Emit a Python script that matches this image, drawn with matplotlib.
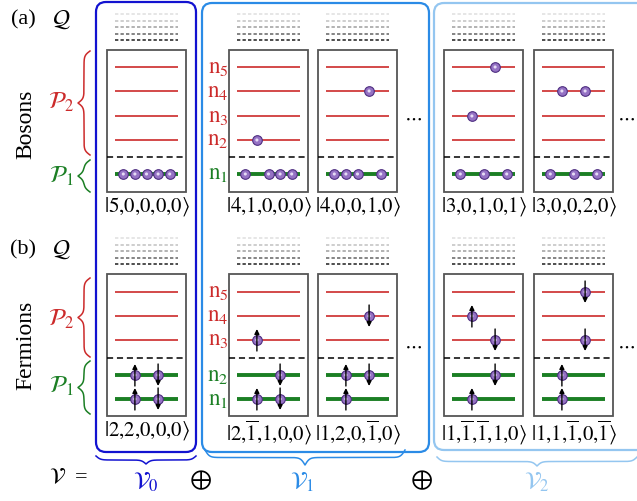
import numpy as np
import matplotlib.pyplot as plt
from matplotlib.patches import FancyBboxPatch, Rectangle

plt.rcParams['font.family'] = 'Liberation Serif'
plt.rcParams['mathtext.fontset'] = 'stix'

# bosons: level (1..5) of each of the five particles, one entry per slot
boson_slots = [
    [1, 1, 1, 1, 1],
    [1, 2, 1, 1, 1],
    [1, 1, 1, 4, 1],
    [1, 3, 1, 5, 1],
    [1, 4, 1, 4, 1],
]
# fermions: occupation per level, 2 = up+down, 1 = up, -1 = down
fermion_occ = [
    [2, 2, 0, 0, 0],
    [2, -1, 1, 0, 0],
    [1, 2, 0, -1, 0],
    [1, -1, -1, 1, 0],
    [1, 1, -1, 0, -1],
]
level_names = ['1', '2', '3', '4', '5']
subspace_names = [r'$\mathcal{V}_0$', r'$\mathcal{V}_1$', r'$\mathcal{V}_2$']

RED = '#cc2a2a'
GREEN = '#1b7f24'
PURPLE = '#9572c4'
BOX_COLORS = ['#1212d0', '#2b8be6', '#94c6f0']

fig = plt.figure(figsize=(6.37, 5.01), dpi=100)
ax = fig.add_axes([0, 0, 1, 1])
ax.set_xlim(0, 637)
ax.set_ylim(501, 0)
ax.axis('off')

panel_left = [107, 229, 318, 444, 534]
PW, PH = 79, 142


def brace(a, b, base, depth, vertical, color, beta=0.45, lw=1.1):
    L = abs(b - a)
    t = np.linspace(0, L / 2, 200)
    half = 1 / (1 + np.exp(-beta * (t - t[0]))) + 1 / (1 + np.exp(-beta * (t - t[-1])))
    d = np.concatenate([half, half[-2::-1]]) - 0.5
    s = a + np.linspace(0, L, d.size)
    if vertical:
        ax.plot(base - depth * d, s, color=color, lw=lw)
    else:
        ax.plot(s, base + depth * d, color=color, lw=lw)


def particle(x, y):
    ax.scatter([x], [y], s=48, c=PURPLE, edgecolors='#4d2d80', linewidths=0.8, zorder=5)
    ax.scatter([x], [y], s=5, c='#e6dcf5', edgecolors='none', zorder=6)


def panel(left, top, levels_y, n_green, label):
    ax.add_patch(Rectangle((left, top), PW, PH, fill=False, ec='#555555', lw=1.3, zorder=2))
    dash_y = levels_y[n_green - 1] - 17
    ax.hlines(dash_y, left, left + PW, colors='k', linestyles=(0, (4, 2.5)), lw=1.1, zorder=3)
    for i, y in enumerate(levels_y):
        if i < n_green:
            ax.hlines(y, left + 8, left + PW - 8, colors=GREEN, lw=2.8, zorder=3)
        else:
            ax.hlines(y, left + 8, left + PW - 8, colors=RED, lw=1.2, zorder=3)
    # Q levels above
    greys = ['#e2e2e2', '#c6c6c6', '#a5a5a5', '#707070', '#303030']
    for k, g in enumerate(greys):
        ax.hlines(top - 36 + k * 6.5, left + 8, left + PW - 8, colors=g,
                  linestyles=(0, (2, 1.3)), lw=1.2)
    ax.text(left + PW / 2, top + PH + 3, label, ha='center', va='top', fontsize=15)


def slot_x(left, slot):
    return left + PW / 2 + (slot - 2) * 11.6


# big rounded boxes
ax.add_patch(FancyBboxPatch((96, 2), 100, 450, boxstyle='round,pad=0,rounding_size=10',
                            fill=False, ec=BOX_COLORS[0], lw=1.6))
ax.add_patch(FancyBboxPatch((202, 3), 227, 449, boxstyle='round,pad=0,rounding_size=10',
                            fill=False, ec=BOX_COLORS[1], lw=1.6))
ax.add_patch(FancyBboxPatch((434, 3), 230, 447, boxstyle='round,pad=0,rounding_size=10',
                            fill=False, ec=BOX_COLORS[2], lw=1.6))

# bosons
b_top = 50
b_levels = [174, 140, 116, 91, 67]
for left, slots in zip(panel_left, boson_slots):
    counts = [slots.count(l + 1) for l in range(5)]
    label = r'$|' + '{,}'.join(str(c) for c in counts) + r'\rangle$'
    panel(left, b_top, b_levels, 1, label)
    for k, lev in enumerate(slots):
        particle(slot_x(left, k), b_levels[lev - 1])

# fermions
f_top = 274
f_levels = [399, 375, 340, 316, 292]
for left, occ in zip(panel_left, fermion_occ):
    parts = []
    for o in occ:
        parts.append(r'\overline{1}' if o == -1 else str(o))
    label = r'$|' + '{,}'.join(parts) + r'\rangle$'
    panel(left, f_top, f_levels, 2, label)
    for lev, o in enumerate(occ):
        y = f_levels[lev]
        spins = {2: [1, -1], 1: [1], -1: [-1], 0: []}[o]
        for sp in spins:
            x = slot_x(left, 1 if sp == 1 else 3)
            particle(x, y)
            ax.annotate('', xy=(x, y - 11 * sp), xytext=(x, y + 11 * sp),
                        arrowprops=dict(arrowstyle='-|>', lw=1.0, color='k',
                                        mutation_scale=7, shrinkA=0, shrinkB=0),
                        zorder=7)

# level names in the second column
for i, name in enumerate(level_names):
    col = GREEN if i == 0 else RED
    ax.text(218, b_levels[i], r'$\mathrm{n}_{%s}$' % name, color=col, ha='center',
            va='center', fontsize=16.5)
    col = GREEN if i < 2 else RED
    ax.text(218, f_levels[i], r'$\mathrm{n}_{%s}$' % name, color=col, ha='center',
            va='center', fontsize=16.5)

# dots
for x in [413, 626]:
    ax.text(x, 118, r'$\cdots$', ha='center', va='center', fontsize=14)
    ax.text(x, 346, r'$\cdots$', ha='center', va='center', fontsize=14)

# left labels
ax.text(23, 20, '(a)', ha='center', va='center', fontsize=16)
ax.text(61, 20, r'$\mathcal{Q}$', ha='center', va='center', fontsize=17)
ax.text(23, 250, '(b)', ha='center', va='center', fontsize=16)
ax.text(61, 250, r'$\mathcal{Q}$', ha='center', va='center', fontsize=17)
ax.text(26, 124, 'Bosons', rotation=90, ha='center', va='center', fontsize=17)
ax.text(26, 345, 'Fermions', rotation=90, ha='center', va='center', fontsize=17)

ax.text(61, 102, r'$\mathcal{P}_2$', color=RED, ha='center', va='center', fontsize=17)
ax.text(61, 176, r'$\mathcal{P}_1$', color=GREEN, ha='center', va='center', fontsize=17)
ax.text(61, 319, r'$\mathcal{P}_2$', color=RED, ha='center', va='center', fontsize=17)
ax.text(61, 386, r'$\mathcal{P}_1$', color=GREEN, ha='center', va='center', fontsize=17)

brace(51, 155, 90, 12, True, RED)
brace(160, 192, 90, 12, True, GREEN)
brace(278, 357, 90, 12, True, RED)
brace(361, 414, 90, 12, True, GREEN)

# bottom
brace(96, 196, 456, 8, False, BOX_COLORS[0])
brace(205, 405, 450, 15, False, BOX_COLORS[1])
brace(437, 637, 457, 9, False, BOX_COLORS[2])

ax.text(68, 479, r'$\mathcal{V}$  =', ha='center', va='center', fontsize=16)
for name, x, col in zip(subspace_names, [146, 302, 537], BOX_COLORS):
    ax.text(x, 482, name, color=col, ha='center', va='center', fontsize=17)
ax.text(200, 480, r'$\oplus$', ha='center', va='center', fontsize=19)
ax.text(421, 480, r'$\oplus$', ha='center', va='center', fontsize=19)

fig.savefig('out.png', dpi=100)
